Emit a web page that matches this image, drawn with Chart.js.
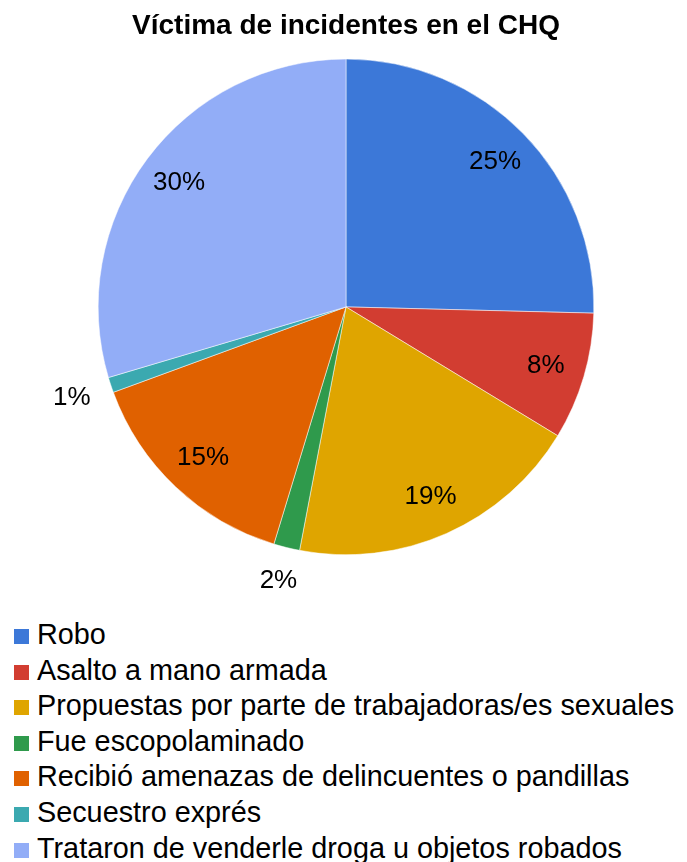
<!DOCTYPE html>
<html>
<head>
<meta charset="utf-8">
<script src="https://cdn.jsdelivr.net/npm/chart.js@4/dist/chart.umd.min.js"></script>
<style>
  body { margin: 0; background: #fff; font-family: Arial, "Liberation Sans", sans-serif; }
  #wrap { position: relative; width: 687px; height: 862px; overflow: hidden; }
  #chart-1 { position: absolute; left: 0; top: 0; }
  #legend { position: absolute; left: 0; top: 617px; margin: 0; padding: 0; list-style: none; }
  #legend li { height: 35.6px; line-height: 35.6px; font-size: 28.8px; color: #000; white-space: nowrap; }
  #legend span.box { display: inline-block; width: 15px; height: 15px; margin-left: 14px; margin-right: 8px; vertical-align: 0px; }
</style>
</head>
<body>
<div id="wrap">
  <canvas id="chart-1" width="687" height="600"></canvas>
  <ul id="legend"></ul>
</div>
<script>
var labels_chart1 = [
    "Robo",
    "Asalto a mano armada",
    "Propuestas por parte de trabajadoras/es sexuales",
    "Fue escopolaminado",
    "Recibió amenazas de delincuentes o pandillas",
    "Secuestro exprés",
    "Trataron de venderle droga u objetos robados"
];
var values_chart1 = [25.4, 8.3, 19.3, 1.7, 14.7, 1.0, 29.6];
var colors_chart1 = ["#3c78d8", "#d23d31", "#dfa500", "#2f9a4c", "#e06100", "#3ba9b0", "#92adf7"];

var total_chart1 = values_chart1.reduce(function(a, b) { return a + b; }, 0);

// percentage labels, small slices go outside
var pctLabels = {
    id: "pctLabels",
    afterDatasetsDraw: function(chart) {
        var ctx = chart.ctx;
        var meta = chart.getDatasetMeta(0);
        ctx.save();
        ctx.font = "26px Arial, 'Liberation Sans', sans-serif";
        ctx.fillStyle = "#000";
        ctx.textAlign = "center";
        ctx.textBaseline = "middle";
        for (let i = 0; i < meta.data.length; i++) {
            var arc = meta.data[i];
            var p = arc.getProps(["x", "y", "startAngle", "endAngle", "outerRadius"], true);
            var pct = values_chart1[i] / total_chart1 * 100;
            var txt = Math.round(pct) + "%";
            var mid = (p.startAngle + p.endAngle) / 2;
            var cx = Math.cos(mid), sy = Math.sin(mid);
            var r;
            if (pct < 5) {
                var halfW = ctx.measureText(txt).width / 2;
                r = p.outerRadius + 20 + Math.abs(cx) * halfW + Math.abs(sy) * 10;
            } else {
                r = p.outerRadius * 0.84;
            }
            ctx.fillText(txt, p.x + cx * r, p.y + sy * r);
        }
        ctx.restore();
    }
};

const ctx = document.getElementById("chart-1").getContext("2d");
const myChart = new Chart(ctx, {
    type: "pie",
    data: {
        labels: labels_chart1,
        datasets: [{
            data: values_chart1,
            backgroundColor: colors_chart1,
            borderColor: "#ffffff",
            borderWidth: 0.5,
        }, ],
    },
    options: {
        responsive: false,
        animation: false,
        layout: {
            padding: { left: 5, right: 0, top: 0, bottom: 45 },
        },
        plugins: {
            legend: {
                display: false,
            },
            tooltip: {
                enabled: false,
            },
            title: {
                display: true,
                text: "Víctima de incidentes en el CHQ",
                color: "#000",
                font: { family: "Arial, 'Liberation Sans', sans-serif", size: 28, weight: "bold", lineHeight: 1.1 },
                padding: { top: 11, bottom: 17 },
            },
        },
    },
    plugins: [pctLabels],
});

// legend, one item per line, left aligned
var legendEl = document.getElementById("legend");
for (let i = 0; i < labels_chart1.length; i++) {
    var li = document.createElement("li");
    var box = document.createElement("span");
    box.className = "box";
    box.style.background = colors_chart1[i];
    li.appendChild(box);
    li.appendChild(document.createTextNode(labels_chart1[i]));
    legendEl.appendChild(li);
}
</script>
</body>
</html>
